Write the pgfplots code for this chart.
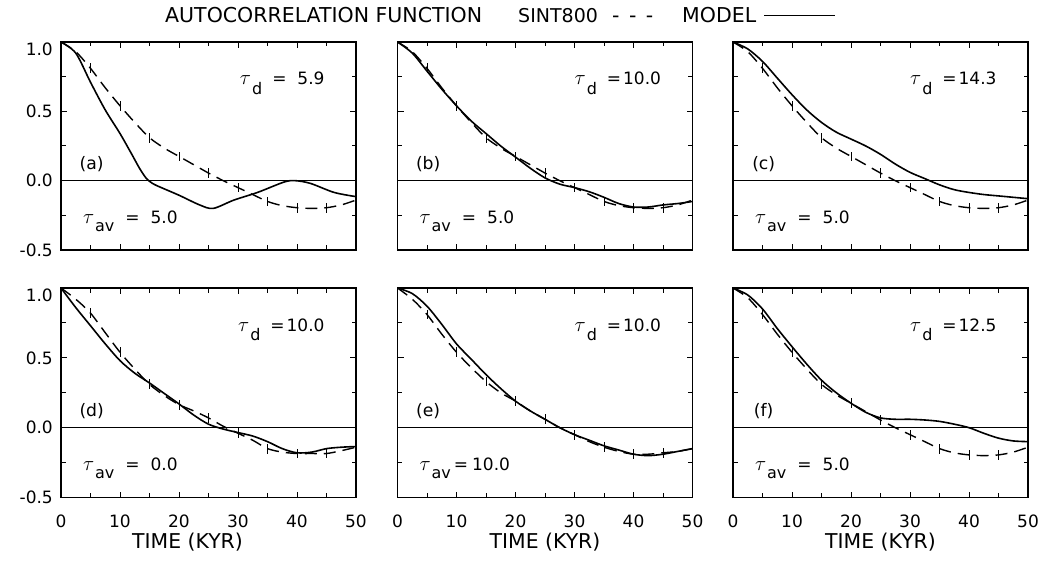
\documentclass[border=0pt]{standalone}
\usepackage{pgfplots}
\pgfplotsset{compat=1.18}
\usepackage{fontspec}
\setmainfont{DejaVu Sans}
% #1 subscript, #2 drop, #3 gap before "=", #4 rest
\newcommand{\tlab}[4]{{\fontsize{22}{24}\selectfont$\tau$}\kern1pt\raisebox{-#2}{\fontsize{16}{18}\selectfont #1}\hspace{#3}#4}
\pgfplotstableread{
x y
0 1.0
2.5 0.93
5 0.81
7.5 0.67
10 0.54
12.5 0.42
15 0.31
17.5 0.235
20 0.175
22.5 0.115
25 0.055
27.5 0.0
30 -0.05
32.5 -0.10
35 -0.15
37.5 -0.18
40 -0.195
42.5 -0.2
45 -0.195
47.5 -0.175
50 -0.14
}\sintfive
\pgfplotstableread{
x y
0 1.0
2.5 0.92
5 0.82
7.5 0.68
10 0.54
12.5 0.42
15 0.31
17.5 0.23
20 0.165
22.5 0.12
25 0.07
27.5 0.01
30 -0.04
32.5 -0.09
35 -0.15
37.5 -0.175
40 -0.185
42.5 -0.185
45 -0.185
47.5 -0.165
50 -0.14
}\sintzero
\pgfplotstableread{
x y
0 1.0
2.5 0.92
5 0.81
7.5 0.67
10 0.54
12.5 0.43
15 0.33
17.5 0.25
20 0.19
22.5 0.12
25 0.06
27.5 0.0
30 -0.05
32.5 -0.10
35 -0.14
37.5 -0.17
40 -0.19
42.5 -0.19
45 -0.18
47.5 -0.17
50 -0.15
}\sintten
\pgfplotstableread{
x y
0 1.0
2.5 0.92
5 0.71
7.5 0.51
10 0.34
12 0.19
13.3 0.09
14.4 0.02
15.5 -0.02
17 -0.05
20 -0.105
23.5 -0.175
25.8 -0.2
29.3 -0.14
33.3 -0.085
37.8 -0.01
39.7 0.0
42.3 -0.02
46.3 -0.085
50 -0.115
}\moda
\pgfplotstableread{
x y
0 1.0
2.5 0.92
5 0.79
7.5 0.66
10 0.54
12.5 0.43
15 0.34
17.5 0.25
20 0.17
22.5 0.09
25 0.02
27.5 -0.025
30 -0.05
32.5 -0.08
35 -0.12
37.5 -0.165
40 -0.19
42.5 -0.19
45 -0.175
47.5 -0.165
50 -0.15
}\modb
\pgfplotstableread{
x y
0 1.0
2.5 0.95
5 0.86
7.5 0.74
10 0.62
12.5 0.51
15 0.42
17.5 0.35
20 0.30
22.5 0.25
25 0.19
27.5 0.12
30 0.06
32.5 0.015
35 -0.03
37.5 -0.065
40 -0.085
42.5 -0.10
45 -0.11
47.5 -0.12
50 -0.13
}\modc
\pgfplotstableread{
x y
0 1.0
2.5 0.86
5 0.73
7.5 0.60
10 0.48
12.5 0.39
15 0.32
17.5 0.245
20 0.17
22.5 0.09
25 0.025
27.5 -0.01
30 -0.035
32.5 -0.06
35 -0.10
37.5 -0.15
40 -0.18
42.5 -0.175
45 -0.15
47.5 -0.14
50 -0.135
}\modd
\pgfplotstableread{
x y
0 1.0
2.5 0.96
5 0.87
7.5 0.74
10 0.60
12.5 0.49
15 0.38
17.5 0.28
20 0.19
22.5 0.12
25 0.06
27.5 0.0
30 -0.05
32.5 -0.09
35 -0.13
37.5 -0.16
40 -0.19
42.5 -0.2
45 -0.19
47.5 -0.17
50 -0.15
}\mode
\pgfplotstableread{
x y
0 1.0
2.5 0.95
5 0.85
7.5 0.71
10 0.58
12.5 0.455
15 0.34
17.5 0.25
20 0.175
22.5 0.11
25 0.07
27.5 0.06
30 0.06
32.5 0.055
35 0.045
37.5 0.025
40 0.0
42.5 -0.04
45 -0.075
47.5 -0.095
50 -0.10
}\modf
\pgfplotsset{
  panel/.style={
    scale only axis, width=295pt,
    anchor=south west,
    xmin=0, xmax=50, ymin=-0.5, ymax=1.0,
    xtick={0,10,...,50}, minor xtick={5,15,...,45},
    ytick={-0.5,0,0.5}, minor ytick={-0.25,0.25,0.75},
    extra y ticks={1},
    extra y tick style={yticklabel style={yshift=-7pt}},
    tick align=inside, xtick pos=both, ytick pos=both,
    xticklabel pos=lower, yticklabel pos=left,
    major tick length=6pt, minor tick length=4.5pt,
    axis line style={line width=1.2pt},
    every tick/.style={black, line width=1pt},
    xticklabel style={anchor=north, inner sep=0pt, font=\fontsize{17}{20}\selectfont},
    yticklabel style={anchor=east, inner sep=0pt, font=\fontsize{17}{20}\selectfont},
    xticklabel shift=17pt, yticklabel shift=8pt,
    xlabel style={at={(axis description cs:0.5,0)}, anchor=base, yshift=-50.5pt, inner sep=0pt, font=\fontsize{20.4}{24}\selectfont},
  },
  toprow/.style={height=208pt, xticklabels={}},
  botrow/.style={height=209.5pt, xticklabels={0,10,20,30,40,50}, xlabel={TIME (KYR)}},
  leftcol/.style={yticklabels={-0.5,0.0,0.5}, extra y tick labels={1.0}},
  othercol/.style={yticklabels={}, extra y tick labels={}},
  sint/.style={black, line width=1.4pt, dash pattern=on 12pt off 7pt, smooth},
  model/.style={black, line width=1.6pt, smooth},
  zero/.style={black, line width=1.2pt},
  ebar/.style={draw=none, forget plot, error bars/.cd, y dir=both, y fixed=0.035, error mark=none, error bar style={draw=black, solid, line width=1pt}},
}
\newcommand{\panellabel}[1]{\node[font=\fontsize{17.2}{20}\selectfont, inner sep=0pt] at (axis cs:5.2,0.12) {(#1)};}
\newcommand{\tdlabel}[2]{\node[font=\fontsize{17}{20}\selectfont, anchor=base east, inner sep=0pt] at (axis cs:44.7,0.69) {\tlab{d}{9.5pt}{#1}{#2}};}
\newcommand{\tavlabel}[2]{\node[font=\fontsize{17}{20}\selectfont, anchor=base west, inner sep=0pt] at (axis cs:3.7,-0.31) {\tlab{av}{7.5pt}{#1}{#2}};}
\begin{document}
\begin{tikzpicture}
\path[use as bounding box] (0pt,0pt) rectangle (1044pt,563pt);
% title / legend line
\node[anchor=base west, inner sep=0pt, font=\fontsize{20.5}{24}\selectfont] at (165pt,540pt) {AUTOCORRELATION FUNCTION};
\node[anchor=base west, inner sep=0pt, font=\fontsize{19}{24}\selectfont] at (518pt,540pt) {SINT800};
\node[anchor=base west, inner sep=0pt, font=\fontsize{20.5}{24}\selectfont] at (612pt,540pt) {-\hspace{9.5pt}-\hspace{9.5pt}-};
\node[anchor=base west, inner sep=0pt, font=\fontsize{20.5}{24}\selectfont] at (682pt,540pt) {MODEL};
\draw[line width=1.2pt] (764pt,547.5pt) -- (835pt,547.5pt);

% (a)
\begin{axis}[panel, toprow, leftcol, at={(61pt,313pt)}]
\addplot[zero] coordinates {(0,0) (50,0)};
\addplot[sint] table {\sintfive};
\addplot[ebar] coordinates {(5,0.81) (10,0.54) (15,0.31) (20,0.175) (25,0.055) (30,-0.05) (35,-0.15) (40,-0.195) (45,-0.195)};
\addplot[model] table {\moda};
\panellabel{a}
\tdlabel{10pt}{=\hspace{11pt}5.9}
\tavlabel{11pt}{=\hspace{11pt}5.0}
\end{axis}
% (b)
\begin{axis}[panel, toprow, othercol, at={(397.5pt,313pt)}]
\addplot[zero] coordinates {(0,0) (50,0)};
\addplot[sint] table {\sintfive};
\addplot[ebar] coordinates {(5,0.81) (10,0.54) (15,0.31) (20,0.175) (25,0.055) (30,-0.05) (35,-0.15) (40,-0.195) (45,-0.195)};
\addplot[model] table {\modb};
\panellabel{b}
\tdlabel{10pt}{=\hspace{2pt}10.0}
\tavlabel{11pt}{=\hspace{11pt}5.0}
\end{axis}
% (c)
\begin{axis}[panel, toprow, othercol, at={(733pt,313pt)}]
\addplot[zero] coordinates {(0,0) (50,0)};
\addplot[sint] table {\sintfive};
\addplot[ebar] coordinates {(5,0.81) (10,0.54) (15,0.31) (20,0.175) (25,0.055) (30,-0.05) (35,-0.15) (40,-0.195) (45,-0.195)};
\addplot[model] table {\modc};
\panellabel{c}
\tdlabel{10pt}{=\hspace{2pt}14.3}
\tavlabel{11pt}{=\hspace{11pt}5.0}
\end{axis}
% (d)
\begin{axis}[panel, botrow, leftcol, at={(61pt,65.5pt)}, xlabel style={at={(axis description cs:0.4288,0)}}]
\addplot[zero] coordinates {(0,0) (50,0)};
\addplot[sint] table {\sintzero};
\addplot[ebar] coordinates {(5,0.82) (10,0.54) (15,0.31) (20,0.165) (25,0.07) (30,-0.04) (35,-0.15) (40,-0.185) (45,-0.185)};
\addplot[model] table {\modd};
\panellabel{d}
\tdlabel{10pt}{=\hspace{2pt}10.0}
\tavlabel{11pt}{=\hspace{11pt}0.0}
\end{axis}
% (e)
\begin{axis}[panel, botrow, othercol, at={(397.5pt,65.5pt)}]
\addplot[zero] coordinates {(0,0) (50,0)};
\addplot[sint] table {\sintten};
\addplot[ebar] coordinates {(5,0.81) (10,0.54) (15,0.33) (20,0.19) (25,0.06) (30,-0.05) (35,-0.14) (40,-0.19) (45,-0.18)};
\addplot[model] table {\mode};
\panellabel{e}
\tdlabel{10pt}{=\hspace{2pt}10.0}
\tavlabel{3pt}{=\hspace{4pt}10.0}
\end{axis}
% (f)
\begin{axis}[panel, botrow, othercol, at={(733pt,65.5pt)}]
\addplot[zero] coordinates {(0,0) (50,0)};
\addplot[sint] table {\sintfive};
\addplot[ebar] coordinates {(5,0.81) (10,0.54) (15,0.31) (20,0.175) (25,0.055) (30,-0.05) (35,-0.15) (40,-0.195) (45,-0.195)};
\addplot[model] table {\modf};
\panellabel{f}
\tdlabel{10pt}{=\hspace{2pt}12.5}
\tavlabel{11pt}{=\hspace{11pt}5.0}
\end{axis}
\end{tikzpicture}
\end{document}
